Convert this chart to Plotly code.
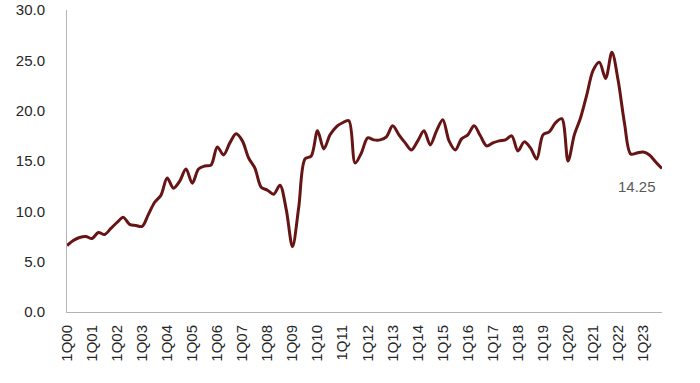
import plotly.graph_objects as go

years = [f"{y:02d}" for y in range(0, 24)]
quarters = [f"{q}Q{y}" for y in years for q in range(1, 5)]

values = [
    6.6, 7.1, 7.4, 7.5,      # 00
    7.3, 7.9, 7.7, 8.3,      # 01
    8.9, 9.4, 8.7, 8.6,      # 02
    8.5, 9.7, 10.9, 11.6,    # 03
    13.3, 12.3, 13.0, 14.2,  # 04
    12.8, 14.2, 14.5, 14.6,  # 05
    16.4, 15.6, 16.8, 17.7,  # 06
    17.0, 15.3, 14.3, 12.4,  # 07
    12.1, 11.7, 12.6, 10.2,  # 08
    6.5, 10.4, 15.2, 15.5,   # 09
    18.0, 16.2, 17.6, 18.4,  # 10
    18.8, 19.0, 14.8, 15.8,  # 11
    17.3, 17.1, 17.1, 17.4,  # 12
    18.5, 17.6, 16.8, 16.1,  # 13
    17.0, 18.0, 16.6, 18.0,  # 14
    19.1, 17.0, 16.1, 17.2,  # 15
    17.6, 18.5, 17.5, 16.5,  # 16
    16.8, 17.0, 17.1, 17.5,  # 17
    16.0, 16.9, 16.3, 15.2,  # 18
    17.6, 17.9, 18.8, 19.2,  # 19
    15.0, 17.6, 19.3, 21.6,  # 20
    24.0, 24.8, 23.2, 25.8,  # 21
    23.0, 18.8, 15.7, 15.8,  # 22
    15.9, 15.6, 14.9, 14.25, # 23
]

tick_labels = [f"1Q{y}" for y in years]
last_label = "14.25"

fig = go.Figure()
fig.add_trace(go.Scatter(
    x=quarters, y=values, mode="lines",
    line=dict(color="#661414", width=3, shape="spline", smoothing=0.9),
    hoverinfo="skip", showlegend=False,
))

fig.add_annotation(
    x=quarters[-1], y=values[-1], text=last_label, showarrow=False,
    xanchor="center", yanchor="middle", xshift=-25, yshift=-18,
    font=dict(family="Liberation Sans, Arial, sans-serif", size=15, color="#595959"),
)

fig.update_layout(
    width=700, height=383,
    margin=dict(l=67, r=38, t=10, b=71),
    paper_bgcolor="white", plot_bgcolor="white",
    font=dict(family="Liberation Sans, Arial, sans-serif", size=14, color="#262626"),
)
fig.update_xaxes(
    type="category", range=[0, 95], tickmode="array",
    tickvals=tick_labels, ticktext=tick_labels, tickangle=-90,
    showline=True, linecolor="#B4B4B4", linewidth=1,
    showgrid=False, zeroline=False, ticks="", automargin=False,
    tickfont=dict(size=15), ticklabelstandoff=6,
)
fig.update_yaxes(
    range=[0, 30], dtick=5, tickformat=".1f",
    showline=True, linecolor="#B4B4B4", linewidth=1,
    showgrid=False, zeroline=False, ticks="", automargin=False,
    tickfont=dict(size=15), ticklabelstandoff=18,
)

fig.write_html(
    "out.html",
    config={"displayModeBar": False},
    post_script="document.body.style.margin='0';",
)
